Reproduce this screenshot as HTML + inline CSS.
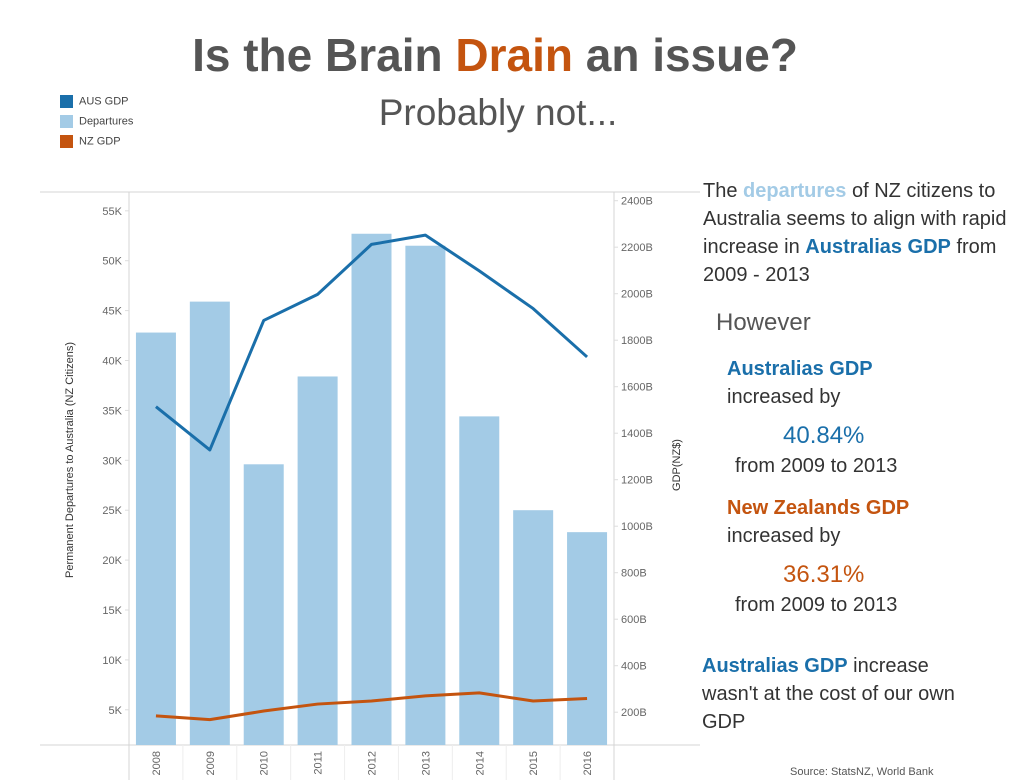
<!DOCTYPE html>
<html><head><meta charset="utf-8"><style>
body{margin:0;width:1020px;height:783px;background:#fff;font-family:"Liberation Sans","DejaVu Sans",sans-serif;position:relative;overflow:hidden}
.a{position:absolute;white-space:nowrap}
.t{font-size:20px;color:#333;line-height:28px}
.t b{font-weight:600}
</style></head><body>
<div class="a" style="left:0;width:990px;text-align:center;top:28px;font-size:46px;font-weight:bold;color:#555">Is the Brain <span style="color:#c4540f">Drain</span> an issue?</div>
<div class="a" style="left:0;width:996px;text-align:center;top:92px;font-size:37px;color:#555">Probably not...</div>
<div>
<div class="a" style="left:60px;top:95px;font-size:11px;color:#444"><span style="display:inline-block;width:13px;height:13px;background:#1a6faa;vertical-align:middle;margin-right:6px"></span>AUS GDP</div>
<div class="a" style="left:60px;top:115px;font-size:11px;color:#444"><span style="display:inline-block;width:13px;height:13px;background:#a3cbe6;vertical-align:middle;margin-right:6px"></span>Departures</div>
<div class="a" style="left:60px;top:135px;font-size:11px;color:#444"><span style="display:inline-block;width:13px;height:13px;background:#c4540f;vertical-align:middle;margin-right:6px"></span>NZ GDP</div>
</div>
<svg id="chart" width="700" height="783" style="position:absolute;left:0;top:0" font-family="Liberation Sans, DejaVu Sans, sans-serif"></svg>
<div class="a t" style="left:703px;top:177px">The <b style="color:#a3cbe6">departures</b> of NZ citizens to<br>Australia seems to align with rapid<br>increase in <b style="color:#1a6faa">Australias GDP</b> from<br>2009 - 2013</div>
<div class="a" style="left:716px;top:309px;font-size:24px;color:#555">However</div>
<div class="a t" style="left:727px;top:355px"><b style="color:#1a6faa">Australias GDP</b><br>increased by</div>
<div class="a" style="left:783px;top:422px;font-size:24px;color:#1a6faa">40.84%</div>
<div class="a t" style="left:735px;top:452px">from 2009 to 2013</div>
<div class="a t" style="left:727px;top:494px"><b style="color:#c4540f">New Zealands GDP</b><br>increased by</div>
<div class="a" style="left:783px;top:561px;font-size:24px;color:#c4540f">36.31%</div>
<div class="a t" style="left:735px;top:591px">from 2009 to 2013</div>
<div class="a t" style="left:702px;top:652px"><b style="color:#1a6faa">Australias GDP</b> increase<br>wasn't at the cost of our own<br>GDP</div>
<div class="a" style="left:790px;top:766px;font-size:11px;color:#555">Source: StatsNZ, World Bank</div>
<script>
const years=["2008","2009","2010","2011","2012","2013","2014","2015","2016"];
const departures=[42.8,45.9,29.6,38.4,52.7,51.5,34.4,25.0,22.8];
const ausGdp=[1514,1328,1885,1997,2212,2252,2098,1936,1728];
const nzGdp=[184,168,205,235,248,270,283,248,259];
const leftTicks=[5,10,15,20,25,30,35,40,45,50,55];
const rightTicks=[200,400,600,800,1000,1200,1400,1600,1800,2000,2200,2400];
const NS="http://www.w3.org/2000/svg",svg=document.getElementById('chart');
const X0=129,X1=614,TOP=192,BOT=745;
const yL=v=>759.7-v*9.98, yR=v=>758.7-v*0.2325;
const band=(X1-X0)/years.length, xc=i=>X0+band*(i+0.5);
function mk(t,a){const e=document.createElementNS(NS,t);for(const k in a)e.setAttribute(k,a[k]);svg.appendChild(e);return e;}
let e;
e=mk('line',{x1:40,x2:700,y1:TOP,y2:TOP,stroke:'#d4d4d4'});
e=mk('line',{x1:40,x2:700,y1:BOT,y2:BOT,stroke:'#d4d4d4'});
e=mk('line',{x1:X0,x2:X0,y1:TOP,y2:780,stroke:'#d4d4d4'});
e=mk('line',{x1:X1,x2:X1,y1:TOP,y2:780,stroke:'#d4d4d4'});
years.forEach((y,i)=>{
 const b=mk('rect',{x:xc(i)-20,y:yL(departures[i]),width:40,height:BOT-yL(departures[i]),fill:'#a3cbe6'});
 
 if(i>0){e=mk('line',{x1:X0+band*i,x2:X0+band*i,y1:BOT,y2:780,stroke:'#eeeeee'});}
 const t=mk('text',{x:0,y:0,transform:`translate(${xc(i)+4},${BOT+6}) rotate(-90)`,'text-anchor':'end','font-size':11,fill:'#666'});t.textContent=y;
 
});
leftTicks.forEach(v=>{const t=mk('text',{x:X0-7,y:yL(v)+4,'text-anchor':'end','font-size':11,fill:'#666'});t.textContent=v+'K';
 
 mk('line',{x1:X0-4,x2:X0,y1:yL(v),y2:yL(v),stroke:'#ddd'});});
rightTicks.forEach(v=>{const t=mk('text',{x:X1+7,y:yR(v)+4,'font-size':11,fill:'#666'});t.textContent=v+'B';
 
 mk('line',{x1:X1,x2:X1+4,y1:yR(v),y2:yR(v),stroke:'#ddd'});});
e=mk('text',{transform:'translate(73,460) rotate(-90)','text-anchor':'middle','font-size':11,fill:'#333'});e.textContent='Permanent Departures to Australia (NZ Citizens)';

e=mk('text',{transform:'translate(680,465) rotate(-90)','text-anchor':'middle','font-size':11,fill:'#333'});e.textContent='GDP(NZ$)';

const pts=a=>a.map((v,i)=>xc(i)+','+yR(v)).join(' ');
e=mk('polyline',{points:pts(ausGdp),fill:'none',stroke:'#1a6faa','stroke-width':3,'stroke-linejoin':'round'});

e=mk('polyline',{points:pts(nzGdp),fill:'none',stroke:'#c4540f','stroke-width':3,'stroke-linejoin':'round'});

</script>
</body></html>
